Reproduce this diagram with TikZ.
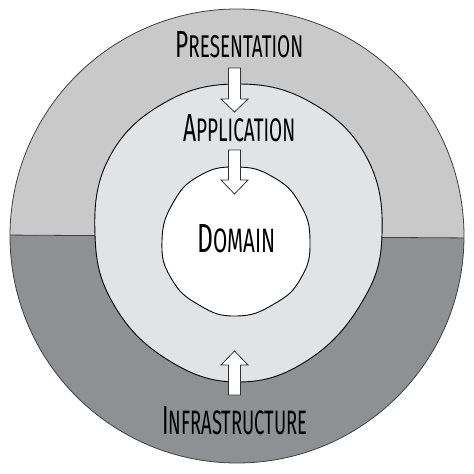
\documentclass[tikz,border=0pt]{standalone}
\usepackage{fontspec}
\usepackage{graphicx}
\newfontfamily\hand{Fira Sans}
\definecolor{topgray}{RGB}{201,201,201}
\definecolor{botgray}{RGB}{143,144,148}
\definecolor{appgray}{RGB}{226,227,229}
\newcommand\lbl[4]{\resizebox{#1}{#2}{\hand\fontsize{30}{30}\selectfont #3\fontsize{25}{25}\selectfont #4}}
\tikzset{
  ring/.style={draw=black!75, line width=0.8pt},
  blob/.style={draw=black, line width=0.9pt},
  blockarrow/.style={draw=black!80, fill=white, line width=0.8pt, line join=miter},
  label/.style={inner sep=0pt, anchor=south west}
}
\begin{document}
\begin{tikzpicture}[x=1pt,y=-1pt]
\useasboundingbox (0,0) rectangle (474,474);
% outer ring halves
\begin{scope}
  \clip (237,236) circle (227pt);
  \fill[topgray] (0,0) -- (474,0) -- (474,238) -- (0,235) -- cycle;
  \fill[botgray] (0,235) -- (474,238) -- (474,474) -- (0,474) -- cycle;
  \draw[ring] (0,235) -- (474,238);
\end{scope}
\draw[ring] (237,236) circle (227pt);
% application ring
\draw[blob, fill=appgray] plot[smooth cycle, tension=0.7] coordinates {
  (382,235) (367,158) (312,103) (238,84) (164,103) (109,158)
  (95,235) (114,305) (168,360) (238,382) (308,360) (362,302)};
% domain
\draw[blob, fill=white] plot[smooth cycle, tension=0.8] coordinates {
  (310,241) (300,204) (273,177) (236,167) (199,176) (173,203)
  (162,241) (171,278) (199,305) (236,316) (274,304) (301,278)};
% arrows
\draw[blockarrow] (228.5,68) -- (240.5,68) -- (240.5,99) -- (248,99) -- (234.5,112)
  -- (221,99) -- (228.5,99) -- cycle;
\draw[blockarrow] (228.5,150) -- (240.5,150) -- (240.5,180) -- (248,180) -- (234.5,194)
  -- (221,180) -- (228.5,180) -- cycle;
\draw[blockarrow] (228.5,395) -- (240.5,395) -- (240.5,365) -- (248,365) -- (234.5,351)
  -- (221,365) -- (228.5,365) -- cycle;
% labels
\node[label] (pres) at (175,58) {\lbl{128pt}{26pt}{P}{RESENTATION}};
\node[label] (app) at (183,142) {\lbl{112pt}{27pt}{A}{PPLICATION}};
\node[label] (dom) at (197,253) {\lbl{78pt}{28pt}{D}{OMAIN}};
\node[label] (infra) at (162,435) {\lbl{145pt}{28pt}{I}{NFRASTRUCTURE}};
\end{tikzpicture}
\end{document}
